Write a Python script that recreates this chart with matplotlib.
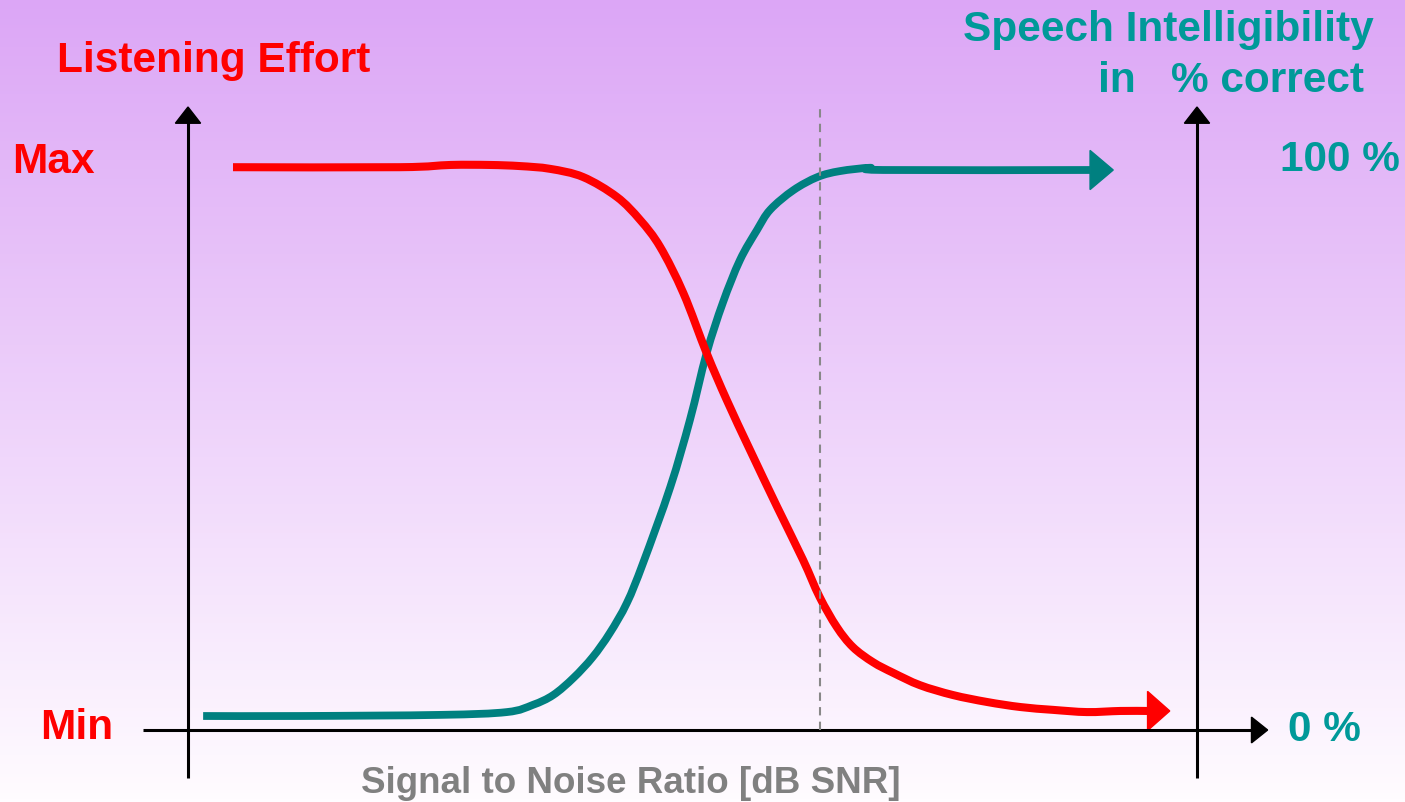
import numpy as np
import matplotlib.pyplot as plt
from matplotlib.patches import FancyArrow, PathPatch
from matplotlib.path import Path

# data space: x = SNR (arbitrary units, 0 = left axis, 100 = right axis)
#             y = % (0 = min / 0 %, 100 = max / 100 %)
# last point of each curve = arrow tip
effort_x = [4.46, 21.0, 26.0, 29.9, 32.9, 35.9, 39.15, 42.5, 44.8, 46.8, 49.1, 51.4, 53.4,
            55.7, 58.4, 60.95, 62.6, 64.3, 65.9, 67.9, 69.9, 72.55, 75.8, 79.2, 82.5, 85.7,
            89.1, 92.4, 95.1, 97.3]
effort_y = [100.5, 100.5, 100.9, 100.9, 100.7, 100.2, 98.75, 95.2, 91.1, 86.25, 78.0, 67.3,
            58.9, 50.0, 39.8, 30.4, 23.75, 18.4, 14.8, 12.1, 10.2, 8.0, 6.25, 5.0, 4.1, 3.6,
            3.2, 3.4, 3.4, 3.4]

intel_x = [1.5, 11.1, 25.0, 31.6, 34.2, 36.2, 38.2, 40.1, 41.8, 43.5, 45.1, 47.8, 49.75,
           51.4, 53.0, 54.7, 56.4, 57.7, 60.0, 62.4, 64.6, 67.6, 68.9, 89.4, 91.7]
intel_y = [2.5, 2.5, 2.7, 3.2, 4.5, 6.25, 9.3, 13.0, 17.3, 22.7, 29.8, 43.4, 55.4,
           67.3, 76.25, 83.9, 89.3, 92.9, 96.4, 98.75, 99.8, 100.4, 100.0, 100.0, 100.0]

marker_snr = 62.6

RED = '#ff0000'
TEAL = '#008080'
TEAL_TXT = '#009999'
GRAY = '#808080'

plt.rcParams['font.family'] = ['Liberation Sans', 'DejaVu Sans']
plt.rcParams['font.weight'] = 'bold'


def smooth_path(x, y):
    # catmull-rom through the read points, as cubic bezier segments
    p = np.column_stack([x, y])
    verts = [p[0]]
    codes = [Path.MOVETO]
    for i in range(len(p) - 1):
        p0 = p[i - 1] if i > 0 else p[i]
        p3 = p[i + 2] if i + 2 < len(p) else p[i + 1]
        verts += [p[i] + (p[i + 1] - p0) / 6, p[i + 1] - (p3 - p[i]) / 6, p[i + 1]]
        codes += [Path.CURVE4] * 3
    return Path(verts, codes)


def curve_with_arrow(ax, x, y, color, lw):
    patch = PathPatch(smooth_path(x[:-1], y[:-1]), fill=False, edgecolor=color, lw=lw,
                      capstyle='butt', joinstyle='round', clip_on=False)
    ax.add_patch(patch)
    ax.add_patch(FancyArrow(x[-2], y[-1], x[-1] - x[-2], 0, width=0, head_width=7.0,
                            head_length=x[-1] - x[-2], length_includes_head=True,
                            color=color, clip_on=False))


fig = plt.figure(figsize=(14.05, 8.02), dpi=100)

# background gradient
bg = fig.add_axes([0, 0, 1, 1])
top = np.array([220, 166, 246]) / 255
bottom = np.array([255, 252, 255]) / 255
t = np.linspace(0, 1, 256)[:, None]
grad = top * (1 - t) + bottom * t
bg.imshow(grad[:, None, :], aspect='auto', extent=[0, 1, 0, 1])
bg.set_axis_off()

ax = fig.add_axes([188 / 1405, 72 / 802, 1009 / 1405, 560 / 802])
ax.set_xlim(0, 100)
ax.set_ylim(0, 100)
ax.set_axis_off()
ax.patch.set_alpha(0)

# axes with arrow heads
ax.plot([-4.46, 105.4], [0, 0], color='black', lw=2.2, clip_on=False, solid_capstyle='butt')
ax.add_patch(FancyArrow(105.0, 0, 2.0, 0, width=0, head_width=4.6, head_length=1.6,
                        length_includes_head=True, color='black', clip_on=False))
for xa in (0, 100):
    ax.plot([xa, xa], [-8.57, 108.5], color='black', lw=2.2, clip_on=False, solid_capstyle='butt')
    ax.add_patch(FancyArrow(xa, 108.0, 0, 3.25, width=0, head_width=2.5, head_length=2.9,
                            length_includes_head=True, color='black', clip_on=False))

# dashed marker
ax.plot([marker_snr, marker_snr], [0, 111], color='#888888', lw=1.5,
        linestyle=(0, (4, 3)), clip_on=False)

# curves
curve_with_arrow(ax, intel_x, intel_y, TEAL, 5.6)
curve_with_arrow(ax, effort_x, effort_y, RED, 5.8)


def ft(x, y, s, **kw):
    fig.text(x / 1405, 1 - y / 802, s, va='baseline', fontweight='bold', **kw)


ft(57, 72, 'Listening Effort', color=RED, fontsize=30.5)
ft(12, 173, 'Max', color=RED, fontsize=30.5)
ft(113, 739, 'Min', color=RED, fontsize=30.5, ha='right')
ft(963, 41, 'Speech Intelligibility', color=TEAL_TXT, fontsize=30.5)
ft(1364, 92, 'in   % correct', color=TEAL_TXT, fontsize=30.5, ha='right')
ft(1400, 171, '100 %', color=TEAL_TXT, fontsize=30.5, ha='right')
ft(1288, 741, '0 %', color=TEAL_TXT, fontsize=30.5)
ft(631, 793, 'Signal to Noise Ratio [dB SNR]', color=GRAY, fontsize=26.5, ha='center')

fig.savefig('out.png', dpi=100)
